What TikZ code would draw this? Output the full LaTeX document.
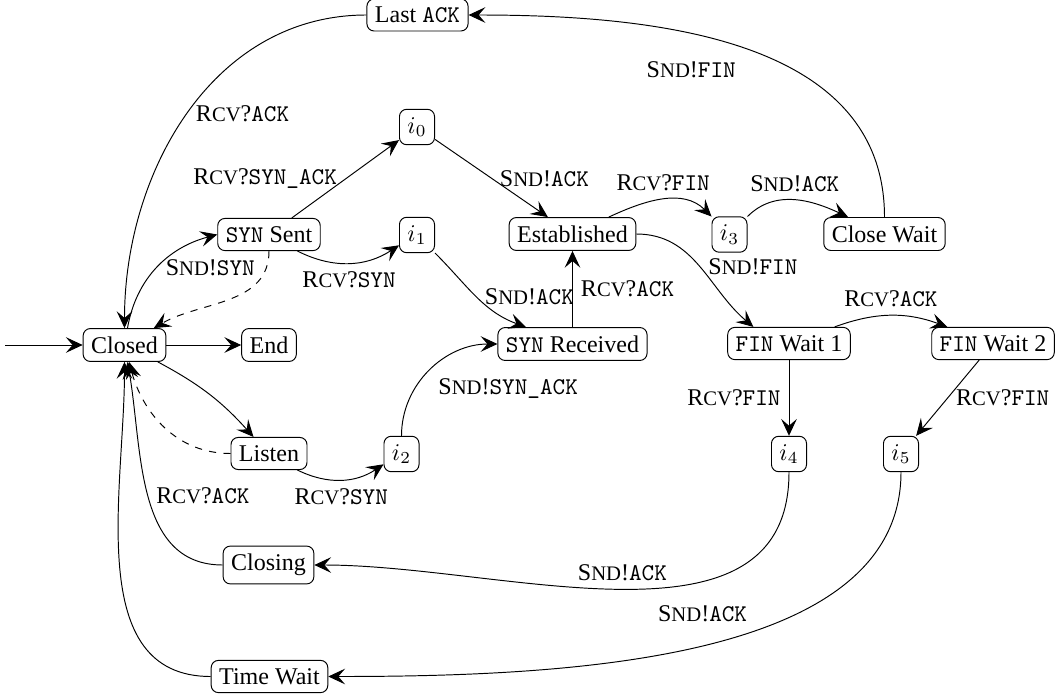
\documentclass[tikz,border=0pt]{standalone}
\usepackage{fontspec}
\setmainfont{Liberation Serif}
\usetikzlibrary{arrows.meta}

\newcommand{\rcv}{R{\fontsize{8.6pt}{10pt}\selectfont CV}?}
\newcommand{\snd}{S{\fontsize{8.6pt}{10pt}\selectfont ND}!}

\begin{document}
\begin{tikzpicture}[x=0.1464cm, y=-0.1464cm,
    >={Stealth[length=7pt, width=6.5pt, inset=2.8pt]},
    state/.style={draw, rounded corners=3pt}]
    \useasboundingbox (0,0) rectangle (106,69.8);

    \coordinate (start) at (0.5,34.5);
    \node[state] (closed) at (12.45,34.5) {Closed};
    \node[state] (end) at (26.9,34.5) {End};
    \node[state] (synsent) at (26.9,23.45) {\texttt{SYN} Sent};
    \node[state] (i0) at (41.7,12.7) {$i_0$};
    \node[state] (i1) at (41.7,23.5) {$i_1$};
    \node[state] (lastack) at (41.75,1.5) {Last \texttt{ACK}};
    \node[state] (established) at (57.25,23.4) {Established};
    \node[state] (i3) at (72.95,23.45) {$i_3$};
    \node[state] (closewait) at (88.45,23.4) {Close Wait};
    \node[state] (synrcv) at (57.25,34.4) {\texttt{SYN} Received};
    \node[state] (finwait1) at (78.9,34.35) {\texttt{FIN} Wait 1};
    \node[state] (finwait2) at (99.3,34.35) {\texttt{FIN} Wait 2};
    \node[state] (listen) at (26.9,45.35) {Listen};
    \node[state] (i2) at (40.15,45.4) {$i_2$};
    \node[state] (i4) at (78.9,45.4) {$i_4$};
    \node[state] (i5) at (90.1,45.4) {$i_5$};
    \node[state] (closing) at (26.85,56.5) {Closing};
    \node[state] (timewait) at (26.95,67.65) {Time Wait};

    \draw[->] (start) -- (closed);
    \draw[->] (closed) -- (end);
    \draw[->] (closed) to[out=80, in=195] node[midway, right] {\snd\texttt{SYN}} (synsent.west);
    \draw[->, dashed] (synsent) to[out=-90, in=30] (closed);
    \draw[->] (synsent) -- node[midway, left] {\rcv\texttt{SYN\_ACK}} (i0);
    \draw[->] (i0) -- node[midway, right] {\snd\texttt{ACK}} (established);
    \draw[->] (synsent) to[bend right] node[below] {\rcv\texttt{SYN}} (i1);
    \draw[->] (i1) to[out=-45, in=160] node[midway, right] {\snd\texttt{ACK}} (synrcv);
    \draw[->] (synrcv) -- node[right] {\rcv\texttt{ACK}} (established);
    \draw[->] (closed) to[bend left=10] (listen);
    \draw[->, dashed] (listen) to[out=180, in=-75] (closed);
    \draw[->] (listen) to[bend right] node[below] {\rcv\texttt{SYN}} (i2);
    \draw[->] (i2) to[out=90, in=180] node[midway, below right] {\snd\texttt{SYN\_ACK}} (synrcv);
    \draw[->] (established) to[out=25, in=135] node[midway, above] {\rcv\texttt{FIN}} (i3);
    \draw[->] (i3) to[out=45, in=155] node[midway, above] {\snd\texttt{ACK}} (closewait);
    \draw[->] (closewait) to[out=90, in=0] node[midway, below left, yshift=-2pt] {\snd\texttt{FIN}} (lastack);
    \draw[->] (lastack) to[out=180, in=90] node[midway, right] {\rcv\texttt{ACK}} (closed);
    \draw[->] (established) to[out=0, in=140] node[midway, right] {\snd\texttt{FIN}} (finwait1.155);
    \draw[->] (finwait1) to[bend left=20] node[midway, above] {\rcv\texttt{ACK}} (finwait2);
    \draw[->] (finwait1) -- node[left] {\rcv\texttt{FIN}} (i4);
    \draw[->] (finwait2) -- node[right] {\rcv\texttt{FIN}} (i5);
    \draw[->] (i4) to[out=-90, in=0] node[midway, above] {\snd\texttt{ACK}} (closing);
    \draw[->] (i5) to[out=-90, in=0, out looseness=0.8] node[pos=0.42, above left] {\snd\texttt{ACK}} (timewait);
    \draw[->] (closing) to[out=180, in=-80] node[midway, right] {\rcv\texttt{ACK}} (closed);
    \draw[->] (timewait) to[out=180, in=-90] (closed);
\end{tikzpicture}
\end{document}
